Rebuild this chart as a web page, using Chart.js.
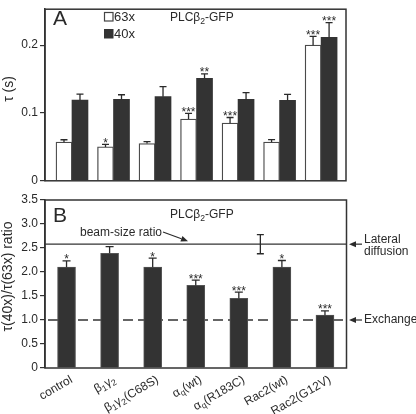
<!DOCTYPE html>
<html><head><meta charset="utf-8">
<script src="https://cdn.jsdelivr.net/npm/chart.js@4/dist/chart.umd.min.js"></script>
<style>
html,body{margin:0;padding:0;background:#fff;}
#wrap{position:relative;width:416px;height:414px;overflow:hidden;}
canvas{position:absolute;left:0;}
#ca{top:0;}
#cb{top:190px;}
</style></head><body>
<div id="wrap"><canvas id="ca" width="416" height="190"></canvas><canvas id="cb" width="416" height="224"></canvas></div>
<script>
// ---------- data ----------
const categories = ["control","β₁γ₂","β₁γ₂(C68S)","αq(wt)","αq(R183C)","Rac2(wt)","Rac2(G12V)"];
const seriesNames = ["63x","40x"];
const tau63    = [0.057,0.050,0.055,0.091,0.085,0.057,0.200];
const tau63Err = [0.0035,0.0036,0.0029,0.0084,0.0083,0.0038,0.0129];
const tau40    = [0.119,0.120,0.124,0.151,0.120,0.1185,0.2115];
const tau40Err = [0.0088,0.0069,0.0149,0.0066,0.0100,0.0088,0.0218];
const stars63  = ["","*","","***","***","","***"];
const stars40  = ["","","","**","","","***"];
const ratio      = [2.10,2.39,2.10,1.72,1.45,2.10,1.10];
const ratioErr   = [0.13,0.14,0.19,0.11,0.13,0.14,0.09];
const ratioStars = ["*","","*","***","***","*","***"];
const beamRatio = 2.58;
const beamRatioErr = 0.2;
const beamRatioPos = 4.5;
const exchangeLevel = 1.0;
const yTicksA = [0,0.1,0.2];
const yTickLabelsA = ["0","0.1","0.2"];
const yTicksB = [0,0.5,1,1.5,2,2.5,3,3.5];
const yTickLabelsB = ["0","0.5","1.0","1.5","2.0","2.5","3.0","3.5"];
const titleA = "PLCβ₂-GFP";
const titleB = "PLCβ₂-GFP";
const yTitleA = "τ (s)";
const yTitleB = "τ(40x)/τ(63x) ratio";
const panelA = "A", panelB = "B";
const beamLabel = "beam-size ratio";
const lateralLabel = ["Lateral","diffusion"];
const exchangeLabel = "Exchange";

// ---------- helpers ----------
const FONT = '"Liberation Sans", Arial, Helvetica, sans-serif';
const INK = '#2a2a2a';
function segs(s){
  const out=[];
  for(let i=0;i<s.length;i++){
    const c=s[i]; let t=c, sub=false;
    if(c==='₁'){t='1';sub=true;} else if(c==='₂'){t='2';sub=true;}
    else if(c==='q' && s[i-1]==='α'){sub=true;}
    const last=out[out.length-1];
    if(last && last.sub===sub) last.t+=t; else out.push({t,sub});
  }
  return out;
}
function richWidth(ctx,s,size){
  let w=0;
  for(const g of segs(s)){ ctx.font=(g.sub?size*0.72:size)+'px '+FONT; w+=ctx.measureText(g.t).width; }
  return w;
}
function drawRich(ctx,s,x,y,size){ // left start, alphabetic/middle baseline as set
  let cx=x;
  for(const g of segs(s)){
    const fs=g.sub?size*0.72:size;
    ctx.font=fs+'px '+FONT;
    ctx.fillText(g.t,cx,y+(g.sub?size*0.28:0));
    cx+=ctx.measureText(g.t).width;
  }
}
function arrow(ctx,x1,y1,x2,y2){
  ctx.save();
  ctx.strokeStyle=INK; ctx.fillStyle=INK; ctx.lineWidth=1.2;
  const a=Math.atan2(y2-y1,x2-x1), L=7, W=3;
  const bx=x2-L*Math.cos(a), by=y2-L*Math.sin(a);
  ctx.beginPath(); ctx.moveTo(x1,y1); ctx.lineTo(bx,by); ctx.stroke();
  ctx.beginPath(); ctx.moveTo(x2,y2);
  ctx.lineTo(bx+W*Math.sin(a),by-W*Math.cos(a));
  ctx.lineTo(bx-W*Math.sin(a),by+W*Math.cos(a));
  ctx.closePath(); ctx.fill();
  ctx.restore();
}
function errorBars(chart,cap){
  const ctx=chart.ctx, ys=chart.scales.y;
  chart.data.datasets.forEach((ds,di)=>{
    if(!ds.errors) return;
    const meta=chart.getDatasetMeta(di);
    meta.data.forEach((el,i)=>{
      const top=ys.getPixelForValue(ds.vals[i]+ds.errors[i]);
      ctx.save();
      ctx.strokeStyle=INK; ctx.lineWidth=1.3;
      ctx.beginPath(); ctx.moveTo(el.x,el.y); ctx.lineTo(el.x,top);
      ctx.moveTo(el.x-cap/2,top); ctx.lineTo(el.x+cap/2,top); ctx.stroke();
      if(ds.stars && ds.stars[i]){
        ctx.fillStyle=INK; ctx.font='12px '+FONT; ctx.textAlign='center'; ctx.textBaseline='alphabetic';
        ctx.fillText(ds.stars[i],el.x,top+2.5);
      }
      ctx.restore();
    });
  });
}
function box(chart){
  const {left,right,top,bottom}=chart.chartArea, ctx=chart.ctx;
  ctx.save(); ctx.strokeStyle='#333'; ctx.lineWidth=1.5;
  ctx.strokeRect(left,top,right-left,bottom-top); ctx.restore();
}
function yTitle(ctx,text,x,y,size){
  ctx.save(); ctx.translate(x,y); ctx.rotate(-Math.PI/2);
  ctx.fillStyle=INK; ctx.textBaseline='middle'; ctx.textAlign='left';
  const w=richWidth(ctx,text,size);
  drawRich(ctx,text,-w/2,0,size);
  ctx.restore();
}
function yAxis(ticks,labels,max){
  return {
    min:0,max:max,
    afterFit:s=>{s.width=45;},
    afterBuildTicks:s=>{s.ticks=ticks.map(v=>({value:v}));},
    ticks:{callback:(v,i)=>labels[i],font:{family:FONT,size:12},color:INK,padding:2},
    grid:{drawOnChartArea:false,drawTicks:true,tickLength:5,color:'#333',lineWidth:1.2},
    border:{display:true,color:'#333',width:1.5}
  };
}

// ---------- Panel A ----------
const plugA={
  id:'pA',
  afterDatasetsDraw(chart){
    const ctx=chart.ctx, ca=chart.chartArea;
    errorBars(chart,7);
    box(chart);
    ctx.save(); ctx.fillStyle=INK; ctx.textBaseline='alphabetic'; ctx.textAlign='left';
    ctx.font='21px '+FONT; ctx.fillText(panelA,53,25);
    // legend
    ctx.fillStyle='#fff'; ctx.fillRect(104,12,9,9);
    ctx.strokeStyle='#444'; ctx.lineWidth=1.2; ctx.strokeRect(104.5,12.5,8.5,8.5);
    ctx.fillStyle='#333'; ctx.fillRect(104,29,9.5,9.5);
    ctx.fillStyle=INK; ctx.font='13px '+FONT; ctx.textBaseline='middle';
    ctx.fillText(chart.data.datasets[0].label,114,17);
    ctx.fillText(chart.data.datasets[1].label,114,34);
    ctx.textBaseline='alphabetic';
    drawRich(ctx,titleA,170,21,12);
    ctx.restore();
    yTitle(ctx,yTitleA,9,89,14);
  }
};
new Chart(document.getElementById('ca'),{
  type:'bar',
  data:{datasets:[
    {label:seriesNames[0],data:tau63.map((v,i)=>({x:i,y:v})),vals:tau63,errors:tau63Err,stars:stars63,
     backgroundColor:'#fff',borderColor:'#4a4a4a',borderWidth:1.3,barThickness:16},
    {label:seriesNames[1],data:tau40.map((v,i)=>({x:i,y:v})),vals:tau40,errors:tau40Err,stars:stars40,
     backgroundColor:'#333',borderColor:'#333',borderWidth:0,barThickness:16}
  ]},
  options:{
    responsive:false,devicePixelRatio:1,animation:false,
    layout:{padding:{left:0,right:70,top:1,bottom:7}},
    plugins:{legend:{display:false},tooltip:{enabled:false}},
    scales:{
      x:{type:'linear',min:-0.65,max:6.6,offset:false,display:false},
      y:yAxis(yTicksA,yTickLabelsA,0.253)
    }
  },
  plugins:[plugA]
});

// ---------- Panel B ----------
const plugB={
  id:'pB',
  beforeDatasetsDraw(chart){
    const ctx=chart.ctx, ca=chart.chartArea, ys=chart.scales.y;
    ctx.save(); ctx.strokeStyle='#333'; ctx.lineWidth=1.5;
    const yd=ys.getPixelForValue(exchangeLevel);
    ctx.setLineDash([10,5]); ctx.lineDashOffset=-3;
    ctx.beginPath(); ctx.moveTo(ca.left,yd); ctx.lineTo(ca.right,yd); ctx.stroke();
    ctx.setLineDash([]); ctx.lineWidth=1.3;
    const yb=ys.getPixelForValue(beamRatio);
    ctx.beginPath(); ctx.moveTo(ca.left,yb); ctx.lineTo(ca.right,yb); ctx.stroke();
    ctx.restore();
  },
  afterDatasetsDraw(chart){
    const ctx=chart.ctx, ca=chart.chartArea, ys=chart.scales.y, xs=chart.scales.x;
    errorBars(chart,8);
    // beam-size ratio uncertainty
    const bx=xs.getPixelForValue(beamRatioPos);
    const b1=ys.getPixelForValue(beamRatio+beamRatioErr), b0=ys.getPixelForValue(beamRatio-beamRatioErr);
    ctx.save(); ctx.strokeStyle=INK; ctx.lineWidth=1.3;
    ctx.beginPath(); ctx.moveTo(bx,b0); ctx.lineTo(bx,b1);
    ctx.moveTo(bx-3.5,b0); ctx.lineTo(bx+3.5,b0); ctx.moveTo(bx-3.5,b1); ctx.lineTo(bx+3.5,b1); ctx.stroke();
    ctx.restore();
    box(chart);
    ctx.save(); ctx.fillStyle=INK; ctx.textAlign='left'; ctx.textBaseline='alphabetic';
    ctx.font='21px '+FONT; ctx.fillText(panelB,53,31.5);
    drawRich(ctx,titleB,170,28,12);
    ctx.font='12px '+FONT; ctx.textBaseline='middle';
    ctx.fillText(beamLabel,80,43);
    const yb=ys.getPixelForValue(beamRatio), yd=ys.getPixelForValue(exchangeLevel);
    ctx.fillText(lateralLabel[0],364,50);
    ctx.fillText(lateralLabel[1],364,62);
    ctx.fillText(exchangeLabel,364,yd);
    ctx.restore();
    arrow(ctx,163,42,188,yb-3);
    arrow(ctx,362,yb,349,yb);
    arrow(ctx,362,yd,349,yd);
    // x labels
    ctx.save(); ctx.fillStyle=INK;
    categories.forEach((c,i)=>{
      const x=xs.getPixelForValue(i);
      ctx.save(); ctx.translate(x+5,ca.bottom+11); ctx.rotate(-Math.PI/6);
      ctx.textBaseline='middle';
      const w=richWidth(ctx,c,12);
      drawRich(ctx,c,-w,0,12);
      ctx.restore();
    });
    ctx.restore();
    yTitle(ctx,yTitleB,8,86.5,14);
  }
};
new Chart(document.getElementById('cb'),{
  type:'bar',
  data:{labels:categories,datasets:[
    {label:'ratio',data:ratio,vals:ratio,errors:ratioErr,stars:ratioStars,
     backgroundColor:'#333',borderColor:'#555',borderWidth:1,barThickness:18}
  ]},
  options:{
    responsive:false,devicePixelRatio:1,animation:false,
    layout:{padding:{left:0,right:69.5,top:10,bottom:46}},
    plugins:{legend:{display:false},tooltip:{enabled:false}},
    scales:{
      x:{type:'category',display:false},
      y:yAxis(yTicksB,yTickLabelsB,3.5)
    }
  },
  plugins:[plugB]
});
</script>
</body></html>
